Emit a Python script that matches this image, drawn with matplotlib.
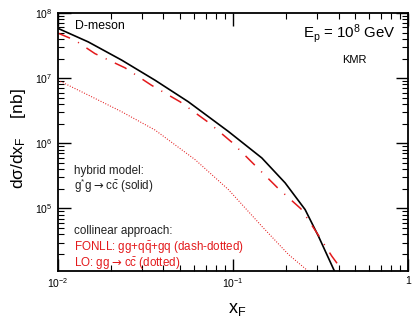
import matplotlib
matplotlib.use('Agg')
import matplotlib.pyplot as plt
import numpy as np
from matplotlib.ticker import LogLocator, NullFormatter

plt.rcParams['font.family'] = ['Liberation Sans', 'DejaVu Sans']
plt.rcParams['mathtext.fontset'] = 'custom'
plt.rcParams['mathtext.rm'] = 'Liberation Sans'
plt.rcParams['mathtext.it'] = 'Liberation Sans:italic'
plt.rcParams['mathtext.sf'] = 'DejaVu Sans'
plt.rcParams['lines.scale_dashes'] = False

# hybrid model g*g -> c cbar (solid)
x_solid = [0.01, 0.01489, 0.02312, 0.0358, 0.0555, 0.094, 0.1459, 0.1982, 0.2578, 0.3072, 0.383]
y_solid = [5.81e7, 3.60e7, 1.89e7, 9.31e6, 4.34e6, 1.52e6, 5.96e5, 2.47e5, 9.61e4, 3.75e4, 1.03e4]

# FONLL gg+qqbar+gq (dash-dotted)
x_fonll = [0.01, 0.0125, 0.01626, 0.02415, 0.0342, 0.0498, 0.0722, 0.0983, 0.1336,
           0.1796, 0.244, 0.3008, 0.3664, 0.4087]
y_fonll = [4.91e7, 3.82e7, 2.38e7, 1.44e7, 7.78e6, 4.34e6, 2.10e6, 1.04e6, 4.57e5,
           2.07e5, 9.88e4, 4.23e4, 1.85e4, 1.24e4]

# LO gg -> c cbar (dotted)
x_lo = [0.01, 0.01489, 0.02312, 0.0358, 0.0607, 0.094, 0.1459, 0.207, 0.2754]
y_lo = [9.31e6, 5.50e6, 3.05e6, 1.60e6, 5.61e5, 1.95e5, 5.33e4, 1.97e4, 1.03e4]

red = '#e31a1c'

fig = plt.figure(figsize=(4.13, 3.21), dpi=100)
ax = fig.add_axes([0.1404, 0.156, 0.848, 0.8035])

ax.plot(x_solid, y_solid, color='black', lw=1.2)
ax.plot(x_fonll, y_fonll, color=red, lw=1.1, dashes=(9.4, 6.5, 0.8, 6.5))
ax.plot(x_lo, y_lo, color=red, lw=0.8, dashes=(0.7, 1.2))

ax.set_xscale('log')
ax.set_yscale('log')
ax.set_xlim(0.01, 1)
ax.set_ylim(1.1e4, 1e8)

for s in ax.spines.values():
    s.set_linewidth(1.3)
ax.tick_params(which='both', direction='in', top=True, right=True, labelsize=7.5, pad=4)
ax.tick_params(which='major', length=9, width=1.0)
ax.tick_params(which='minor', length=4.5, width=0.8)
ax.xaxis.set_minor_locator(LogLocator(base=10, subs=np.arange(2, 10)))
ax.yaxis.set_minor_locator(LogLocator(base=10, subs=np.arange(2, 10)))
ax.xaxis.set_minor_formatter(NullFormatter())
ax.yaxis.set_minor_formatter(NullFormatter())
ax.set_xticks([0.01, 0.1, 1])
ax.set_xticklabels(['$10^{-2}$', '$10^{-1}$', '1'])
ax.set_yticks([1e5, 1e6, 1e7, 1e8])
ax.set_yticklabels(['$10^{5}$', '$10^{6}$', '$10^{7}$', '$10^{8}$'])

fig.text(0.574, 0.035, '$\\mathrm{x_F}$', fontsize=13, ha='center', va='center')
fig.text(0.045, 0.567, '$\\mathrm{d\\sigma/dx_F}$    [nb]', fontsize=12.5, rotation=90,
         ha='center', va='center')

tr = ax.transAxes
ax.text(0.049, 0.938, 'D-meson', transform=tr, fontsize=8.8, va='baseline')
ax.text(0.70, 0.903, '$\\mathrm{E_p}$ = $\\mathrm{10^8}$ GeV', transform=tr, fontsize=10.8, va='baseline')
ax.text(0.811, 0.806, 'KMR', transform=tr, fontsize=8, va='baseline')
fs = 8.4
ax.text(0.045, 0.374, 'hybrid model:', transform=tr, fontsize=fs, va='baseline', color='#222222')
ax.text(0.045, 0.312, 'g$^{*}$g$\\;\\mathsf{→}\\;$c$\\mathrm{\\bar{c}}$ (solid)', transform=tr, fontsize=fs,
        va='baseline', color='#222222')
ax.text(0.045, 0.143, 'collinear approach:', transform=tr, fontsize=fs, va='baseline', color='#222222')
ax.text(0.045, 0.079, 'FONLL: gg+q$\\mathrm{\\bar{q}}$+gq (dash-dotted)', transform=tr, fontsize=fs,
        va='baseline', color=red)
ax.text(0.045, 0.016, 'LO: gg$\\;\\mathsf{→}\\;$c$\\mathrm{\\bar{c}}$ (dotted)', transform=tr, fontsize=fs,
        va='baseline', color=red)

fig.savefig('out.png', dpi=100)
